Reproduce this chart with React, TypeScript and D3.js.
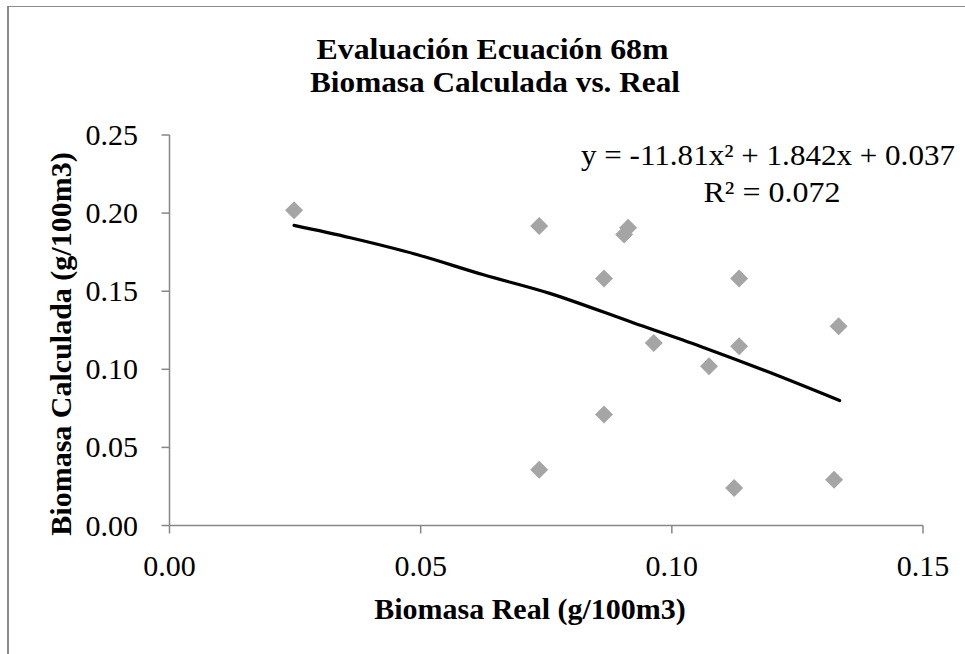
import React from "react";
import * as d3 from "d3";

const realX = [0.0248, 0.0736, 0.0736, 0.0913, 0.0905, 0.0865, 0.1134, 0.1332, 0.0964, 0.1134, 0.1074, 0.0865, 0.1124, 0.1323];
const calcY = [0.2019, 0.1917, 0.0357, 0.1906, 0.1863, 0.1581, 0.1581, 0.1276, 0.1169, 0.1147, 0.1019, 0.0710, 0.0240, 0.0293];

const trendX = [0.0248, 0.0360, 0.0492, 0.0625, 0.0757, 0.0923, 0.1056, 0.1189, 0.1334];
const trendY = [0.1921, 0.1842, 0.1735, 0.1605, 0.1486, 0.1298, 0.1148, 0.0987, 0.0800];

const xTicks = [0, 0.05, 0.1, 0.15];
const yTicks = [0, 0.05, 0.1, 0.15, 0.2, 0.25];

const titleLines = ["Evaluación Ecuación 68m", "Biomasa Calculada vs. Real"];
const xTitle = "Biomasa Real (g/100m3)";
const yTitle = "Biomasa Calculada (g/100m3)";
const eqLines = ["y = -11.81x² + 1.842x + 0.037", "R² = 0.072"];

const W = 965;
const H = 654;
const FONT = "Liberation Serif";

export default function App() {
  const x = d3.scaleLinear().domain([0, 0.15]).range([169.5, 923]);
  const y = d3.scaleLinear().domain([0, 0.25]).range([525.5, 135]);
  const axisColor = "#878787";
  const pts = realX.map((v, i) => [v, calcY[i]]);
  const trend = trendX.map((v, i) => [v, trendY[i]] as [number, number]);
  const line = d3
    .line<[number, number]>()
    .x((d) => x(d[0]))
    .y((d) => y(d[1]))
    .curve(d3.curveCatmullRom);
  const ds = 9;
  const ts = { fontFamily: FONT } as React.CSSProperties;
  const titleW = [352, 370];
  const titleX = [492.5, 495];
  const titleY = [58.5, 92];
  const eqW = [374, 137];
  const eqX = [768, 772];
  const eqY = [165, 202];
  return (
    <div style={{ position: "fixed", left: 0, top: 0, width: W, height: H, background: "#fff" }}>
      <svg width={W} height={H} style={{ display: "block", fontFamily: FONT }}>
        <rect x={0} y={0} width={W} height={H} fill="#fff" />
        <line x1={8} x2={8} y1={6} y2={H} stroke="#8a8a8a" strokeWidth={2} />
        <line x1={7} x2={W} y1={6.5} y2={6.5} stroke="#8a8a8a" strokeWidth={1} />
        {titleLines.map((t, i) => (
          <text
            key={i}
            x={titleX[i]}
            y={titleY[i]}
            textAnchor="middle"
            fontWeight="bold"
            fontSize={30}
            fill="#000"
            style={ts}
            textLength={titleW[i]}
            lengthAdjust="spacingAndGlyphs"
          >
            {t}
          </text>
        ))}
        <line x1={x(0)} x2={x(0)} y1={y(0.25)} y2={y(0)} stroke={axisColor} strokeWidth={1.5} />
        <line x1={x(0)} x2={x(0.15)} y1={y(0)} y2={y(0)} stroke={axisColor} strokeWidth={1.5} />
        {yTicks.map((t) => (
          <g key={"y" + t}>
            <line x1={x(0) - 8} x2={x(0)} y1={y(t)} y2={y(t)} stroke={axisColor} strokeWidth={1.5} />
            <text x={138} y={y(t) + 10} textAnchor="end" fontSize={30} fill="#000" style={ts}>
              {t.toFixed(2)}
            </text>
          </g>
        ))}
        {xTicks.map((t) => (
          <g key={"x" + t}>
            <line x1={x(t)} x2={x(t)} y1={y(0)} y2={y(0) + 8} stroke={axisColor} strokeWidth={1.5} />
            <text x={x(t)} y={576} textAnchor="middle" fontSize={30} fill="#000" style={ts}>
              {t.toFixed(2)}
            </text>
          </g>
        ))}
        <text x={530} y={619} textAnchor="middle" fontWeight="bold" fontSize={30} fill="#000" style={ts}>
          {xTitle}
        </text>
        <text
          transform={`translate(71,${344}) rotate(-90)`}
          textAnchor="middle"
          fontWeight="bold"
          fontSize={30}
          fill="#000"
          style={ts}
        >
          {yTitle}
        </text>
        {pts.map((p, i) => (
          <path
            key={i}
            d={`M${x(p[0])},${y(p[1]) - ds}L${x(p[0]) + ds},${y(p[1])}L${x(p[0])},${y(p[1]) + ds}L${x(p[0]) - ds},${y(p[1])}Z`}
            fill="#a5a5a5"
          />
        ))}
        <path d={line(trend) || ""} fill="none" stroke="#000" strokeWidth={3.2} strokeLinecap="round" />
        {eqLines.map((t, i) => (
          <text
            key={i}
            x={eqX[i]}
            y={eqY[i]}
            textAnchor="middle"
            fontSize={30}
            fill="#000"
            style={ts}
            textLength={eqW[i]}
            lengthAdjust="spacingAndGlyphs"
          >
            {t}
          </text>
        ))}
      </svg>
    </div>
  );
}
